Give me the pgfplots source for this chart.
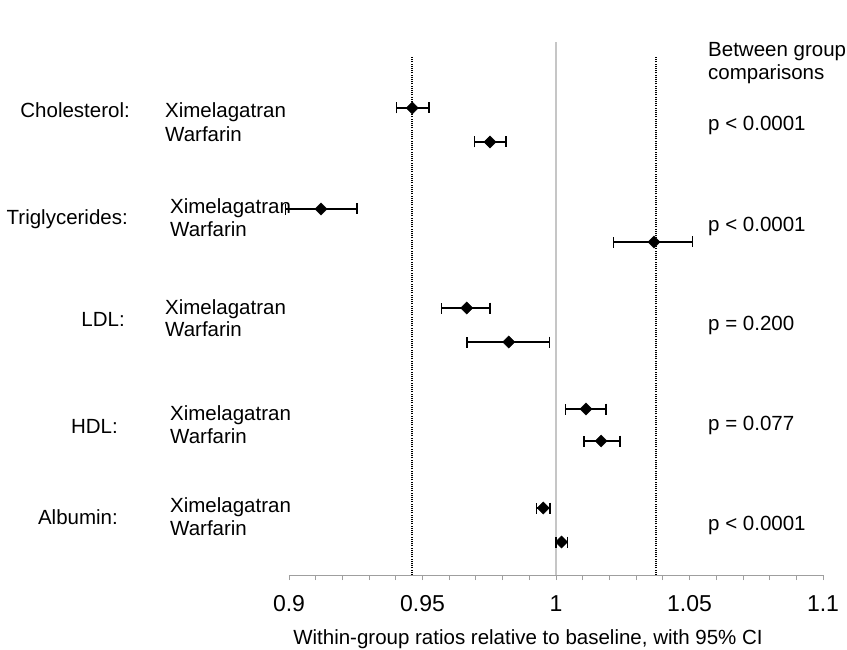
\documentclass[border=0pt]{standalone}
\usepackage{fontspec}
\setmainfont{Liberation Sans}
\usepackage{pgfplots}
\pgfplotsset{compat=1.18}

% y is measured from the x axis upwards; x error minus/plus = CI halves
\pgfplotstableread{
x       y    em      ep
0.9462  467  0.0060  0.0062
0.9753  433  0.0059  0.0060
0.9120  366  0.0134  0.0135
1.0367  333  0.0152  0.0145
0.9666  267  0.0094  0.0087
0.9823  233  0.0157  0.0152
1.0112  166  0.0077  0.0075
1.0169  134  0.0064  0.0071
0.9952   67  0.0024  0.0026
1.0021   33  0.0021  0.0023
}\ratios

\begin{document}
\begin{tikzpicture}[
    txt/.style={inner sep=0pt, font=\fontsize{20.5pt}{24pt}\selectfont, yshift=-7pt},
    lw/.style={txt, anchor=base west},
    le/.style={txt, anchor=base east}]
\useasboundingbox (-289pt,-74pt) rectangle (558pt,575pt);
\begin{axis}[
    scale only axis,
    width=534pt, height=575pt,
    xmin=0.9, xmax=1.1, ymin=0, ymax=575,
    clip=false,
    axis x line*=bottom, axis y line=none,
    xtick={0.9,0.95,1,1.05,1.1},
    minor tick num=4,
    tick align=outside,
    major tick length=5pt, minor tick length=5pt,
    tick style={gray!75, line width=0.8pt},
    axis line style={gray!75, line width=0.8pt},
    /pgf/number format/assume math mode=true,
    xticklabel style={font=\fontsize{23pt}{27pt}\selectfont, text=black, yshift=-12pt},
]
\addplot[gray!45, line width=1.6pt] coordinates {(1,0) (1,533)};
\addplot[black, line width=1.5pt, dash pattern=on 1.1pt off 1.1pt] coordinates {(0.9461,0) (0.9461,518)};
\addplot[black, line width=1.5pt, dash pattern=on 1.1pt off 1.1pt] coordinates {(1.0375,0) (1.0375,518)};
\addplot[only marks, mark=square*, mark size=4.3pt, mark options={rotate=45}, black,
    error bars/.cd, x dir=both, x explicit,
    error mark=|,
    error bar style={line width=1.4pt, black},
    error mark options={black, mark size=5.5pt, line width=1.4pt, rotate=0}]
    table[x=x, y=y, x error minus=em, x error plus=ep] {\ratios};
\end{axis}
% group names
\node[le] at (-159pt,464pt) {Cholesterol:};
\node[le] at (-161pt,357pt) {Triglycerides:};
\node[le] at (-164pt,256pt) {LDL:};
\node[le] at (-171pt,149pt) {HDL:};
\node[le] at (-171pt,58pt) {Albumin:};
% treatment names
\node[lw] at (-124pt,464pt) {Ximelagatran};
\node[lw] at (-124pt,440pt) {Warfarin};
\node[lw] at (-119pt,368pt) {Ximelagatran};
\node[lw] at (-119pt,345pt) {Warfarin};
\node[lw] at (-124pt,268pt) {Ximelagatran};
\node[lw] at (-124pt,246pt) {Warfarin};
\node[lw] at (-119pt,162pt) {Ximelagatran};
\node[lw] at (-119pt,139pt) {Warfarin};
\node[lw] at (-119pt,70pt) {Ximelagatran};
\node[lw] at (-119pt,47pt) {Warfarin};
% between group comparisons
\node[lw] at (419pt,525pt) {Between group};
\node[lw] at (419pt,502pt) {comparisons};
\node[lw] at (419pt,451pt) {p < 0.0001};
\node[lw] at (419pt,350pt) {p < 0.0001};
\node[lw] at (419pt,252pt) {p = 0.200};
\node[lw] at (419pt,152pt) {p = 0.077};
\node[lw] at (419pt,52pt) {p < 0.0001};
% axis title
\node[txt, anchor=base, yshift=0pt] at (239pt,-62pt) {Within-group ratios relative to baseline, with 95\% CI};
\end{tikzpicture}
\end{document}
